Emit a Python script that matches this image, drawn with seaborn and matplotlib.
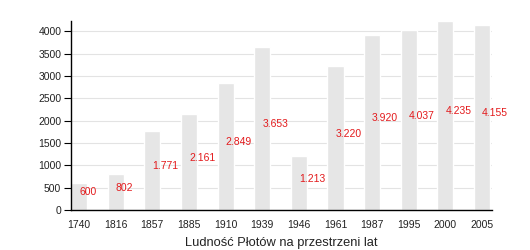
import matplotlib
matplotlib.use("Agg")
import matplotlib.pyplot as plt
import seaborn as sns
import pandas as pd

years = ["1740", "1816", "1857", "1885", "1910", "1939", "1946", "1961", "1987", "1995", "2000", "2005"]
population = [600, 802, 1771, 2161, 2849, 3653, 1213, 3220, 3920, 4037, 4235, 4155]
title = "Ludność Płotów na przestrzeni lat"

def fmt(v):
    return f"{v:,}".replace(",", ".")

sns.set_theme(style="white")
plt.rcParams["font.family"] = ["Liberation Sans", "DejaVu Sans"]

df = pd.DataFrame({"year": years, "pop": population})

fig = plt.figure(figsize=(5.3, 2.5), dpi=100)
ax = fig.add_axes([0.134, 0.16, 0.794, 0.756])

sns.barplot(data=df, x="year", y="pop", color="#e6e6e6", width=0.44,
            saturation=1, ax=ax, zorder=2)

for i, v in enumerate(population):
    ax.annotate(fmt(v), xy=(i, v / 2), xytext=(0, 3), textcoords="offset points",
                ha="left", va="center", color="#e31a1c", fontsize=7.5, zorder=3)

ax.set_xlim(-0.22, 11.27)
ax.set_ylim(0, 4235)
ax.set_yticks(range(0, 4001, 500))
ax.yaxis.grid(True, color="#e3e3e3", linewidth=0.8, zorder=0)
ax.set_axisbelow(True)

for s in ["top", "right"]:
    ax.spines[s].set_visible(False)
for s in ["left", "bottom"]:
    ax.spines[s].set_color("black")
    ax.spines[s].set_linewidth(1.0)

ax.tick_params(axis="y", left=True, length=5, width=0.8, color="black",
               labelsize=7.5, pad=2, labelcolor="#222222")
ax.tick_params(axis="x", bottom=False, labelsize=7.5, pad=1, labelcolor="#222222")
ax.set_ylabel("")
ax.set_xlabel(title, fontsize=9.3, color="#222222", labelpad=5)

fig.savefig("out.png", dpi=100)
